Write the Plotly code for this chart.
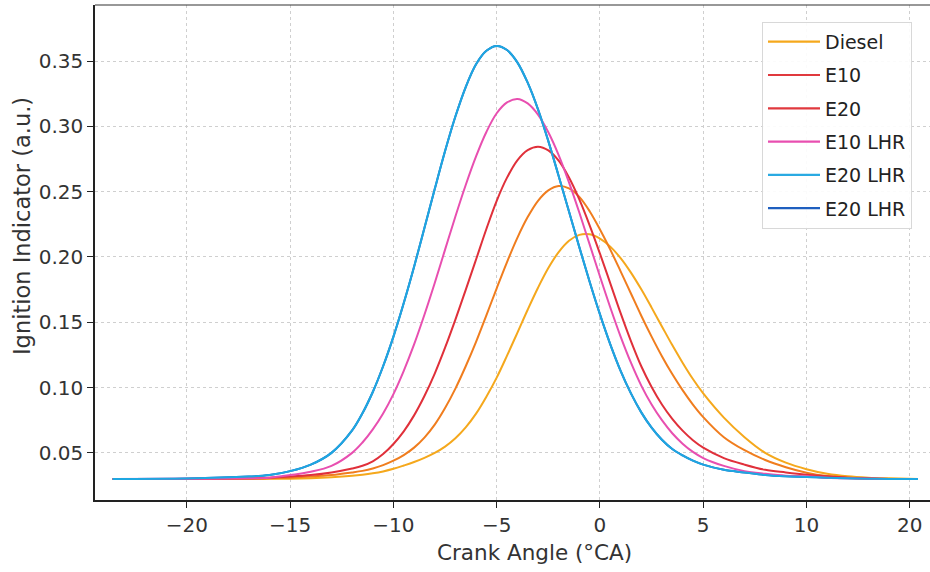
import plotly.graph_objects as go

# Crank angle grid (axis units)
crank = [-23.6, -20, -17, -16, -15, -14, -13,
         -12, -11.5, -11, -10.5, -10, -9.5, -9, -8.5, -8, -7.5,
         -7, -6.5, -6, -5.5, -5, -4.5, -4, -3.5, -3, -2.5,
         -2, -1.5, -1, -0.5, 0, 0.5, 1, 1.5, 2, 2.5,
         3, 3.5, 4, 4.5, 5,
         6, 7, 8, 9, 10, 11, 12, 13, 14, 15.4]

diesel = [0.030, 0.030, 0.030, 0.0301, 0.0302, 0.0306, 0.0313,
          0.0324, 0.0332, 0.0343, 0.0358, 0.0378, 0.0403, 0.0430, 0.0462, 0.0500, 0.0548,
          0.0612, 0.0695, 0.0800, 0.0930, 0.1076, 0.1244, 0.1419, 0.1596, 0.1764, 0.1915,
          0.2037, 0.2124, 0.2169, 0.2173, 0.2140, 0.2079, 0.1991, 0.1880, 0.1752, 0.1612,
          0.1468, 0.1325, 0.119, 0.1065, 0.0955,
          0.077, 0.062, 0.050, 0.0425, 0.0375, 0.034, 0.032, 0.031, 0.0305, 0.030]
e10 = [0.030, 0.030, 0.0302, 0.0305, 0.031, 0.0318, 0.033,
       0.035, 0.0362, 0.038, 0.0406, 0.044, 0.0483, 0.054, 0.0617, 0.0716, 0.0843,
       0.0992, 0.1163, 0.135, 0.1553, 0.176, 0.1961, 0.2146, 0.2305, 0.243, 0.2510,
       0.2543, 0.2525, 0.246, 0.2350, 0.221, 0.2056, 0.189, 0.172, 0.155, 0.139,
       0.124, 0.1103, 0.098, 0.087, 0.0774,
       0.062, 0.052, 0.0445, 0.039, 0.0348, 0.0322, 0.031, 0.0303, 0.030, 0.030]
e20 = [0.030, 0.030, 0.0305, 0.031, 0.0318, 0.033, 0.035,
       0.038, 0.0401, 0.0435, 0.0491, 0.0568, 0.0665, 0.0787, 0.0935, 0.1107, 0.1305,
       0.152, 0.1748, 0.198, 0.2214, 0.243, 0.2607, 0.274, 0.2818, 0.2844, 0.2816,
       0.2737, 0.2608, 0.244, 0.2242, 0.2025, 0.1798, 0.157, 0.1356, 0.1163, 0.1004,
       0.087, 0.076, 0.067, 0.0597, 0.054,
       0.046, 0.041, 0.037, 0.035, 0.0333, 0.032, 0.031, 0.0305, 0.030, 0.030]
e10_lhr = [0.030, 0.0301, 0.0305, 0.031, 0.033, 0.0355, 0.040,
           0.050, 0.0579, 0.068, 0.0802, 0.095, 0.1128, 0.133, 0.1557, 0.180, 0.2056,
           0.231, 0.2551, 0.277, 0.2957, 0.310, 0.3183, 0.321, 0.3176, 0.309, 0.2955,
           0.278, 0.2571, 0.234, 0.2096, 0.185, 0.1613, 0.139, 0.1190, 0.1015, 0.0870,
           0.075, 0.065, 0.057, 0.0507, 0.046,
           0.040, 0.036, 0.034, 0.0325, 0.032, 0.031, 0.0305, 0.0302, 0.030, 0.030]
e20_lhr = [0.030, 0.0303, 0.0318, 0.033, 0.036, 0.041, 0.050,
           0.0672, 0.0803, 0.0966, 0.1163, 0.139, 0.1647, 0.1925, 0.2221, 0.252, 0.2811,
           0.3075, 0.3301, 0.3475, 0.3578, 0.3615, 0.3584, 0.349, 0.3334, 0.313, 0.2887,
           0.262, 0.2348, 0.2075, 0.1810, 0.156, 0.1331, 0.1128, 0.0955, 0.081, 0.0693,
           0.060, 0.0529, 0.048, 0.044, 0.041,
           0.037, 0.035, 0.033, 0.032, 0.0315, 0.031, 0.0305, 0.0302, 0.030, 0.030]
e20_lhr_b = e20_lhr

curve_series = [
    ("E20 LHR", e20_lhr_b, "#1f5fbf"),
    ("Diesel", diesel, "#f5a81c"),
    ("E10", e10, "#f07d1e"),
    ("E20", e20, "#e0303a"),
    ("E10 LHR", e10_lhr, "#e84fb0"),
    ("E20 LHR", e20_lhr, "#1ea7e1"),
]

legend_names = ["Diesel", "E10", "E20", "E10 LHR", "E20 LHR", "E20 LHR"]
legend_colors = ["#f5a81c", "#e0393e", "#e0393e", "#e84fb0", "#2aaae2", "#1f5fbf"]

tick_vals = [-20, -15, -10, -5, 0, 5, 10, 15]
tick_text = ["−20", "−15", "−10", "−5", "0", "5", "10", "20"]
y_ticks = [0.05, 0.10, 0.15, 0.20, 0.25, 0.30, 0.35]

fig = go.Figure()
for name, ys, col in curve_series:
    fig.add_trace(go.Scatter(x=crank, y=ys, mode="lines", name=name, showlegend=False,
                             line=dict(color=col, width=2, shape="spline", smoothing=1.0),
                             hoverinfo="skip"))
for i, (name, col) in enumerate(zip(legend_names, legend_colors)):
    fig.add_trace(go.Scatter(x=[None], y=[None], mode="lines", name=name,
                             legendgroup="g%d" % i,
                             line=dict(color=col, width=2.2)))

font = "DejaVu Sans, Arial, sans-serif"
fig.update_layout(
    width=930, height=572,
    margin=dict(l=95, r=0, t=5, b=72),
    paper_bgcolor="white", plot_bgcolor="white",
    font=dict(family=font, size=20, color="#333333"),
    showlegend=True,
    legend=dict(x=0.7988, y=0.966, xanchor="left", yanchor="top",
                bgcolor="rgba(255,255,255,0.9)", bordercolor="#d8d8d8", borderwidth=1,
                font=dict(size=19, color="#222222"), tracegroupgap=5.6,
                itemwidth=52),
    xaxis=dict(range=[-24.45, 15.98], tickvals=tick_vals, ticktext=tick_text,
               showgrid=True, gridcolor="#cfcfcf", griddash="dot", gridwidth=1,
               zeroline=False, showline=True, linecolor="#222222", linewidth=1.5,
               ticks="outside", ticklen=6, tickcolor="#222222",
               tickfont=dict(size=20, color="#333333")),
    yaxis=dict(range=[0.0139, 0.3929], tickvals=y_ticks, tickformat=".2f",
               showgrid=True, gridcolor="#cfcfcf", griddash="dot", gridwidth=1,
               zeroline=False, showline=True, linecolor="#222222", linewidth=1.5,
               ticks="outside", ticklen=6, tickcolor="#222222",
               tickfont=dict(size=20, color="#333333")),
    annotations=[
        dict(text="Crank Angle (°CA)", xref="paper", yref="paper", x=0.526, y=-0.107,
             xanchor="center", yanchor="middle", showarrow=False,
             font=dict(size=21.5, color="#333333")),
        dict(text="Ignition Indicator (a.u.)", xref="paper", yref="paper", x=-0.0874, y=0.5535,
             xanchor="center", yanchor="middle", showarrow=False, textangle=-90,
             font=dict(size=22.5, color="#333333")),
    ],
    shapes=[dict(type="line", xref="paper", yref="paper", x0=0, x1=1, y0=1, y1=1,
                 line=dict(color="#333333", width=1.2))],
)

fig.write_html("out.html")
